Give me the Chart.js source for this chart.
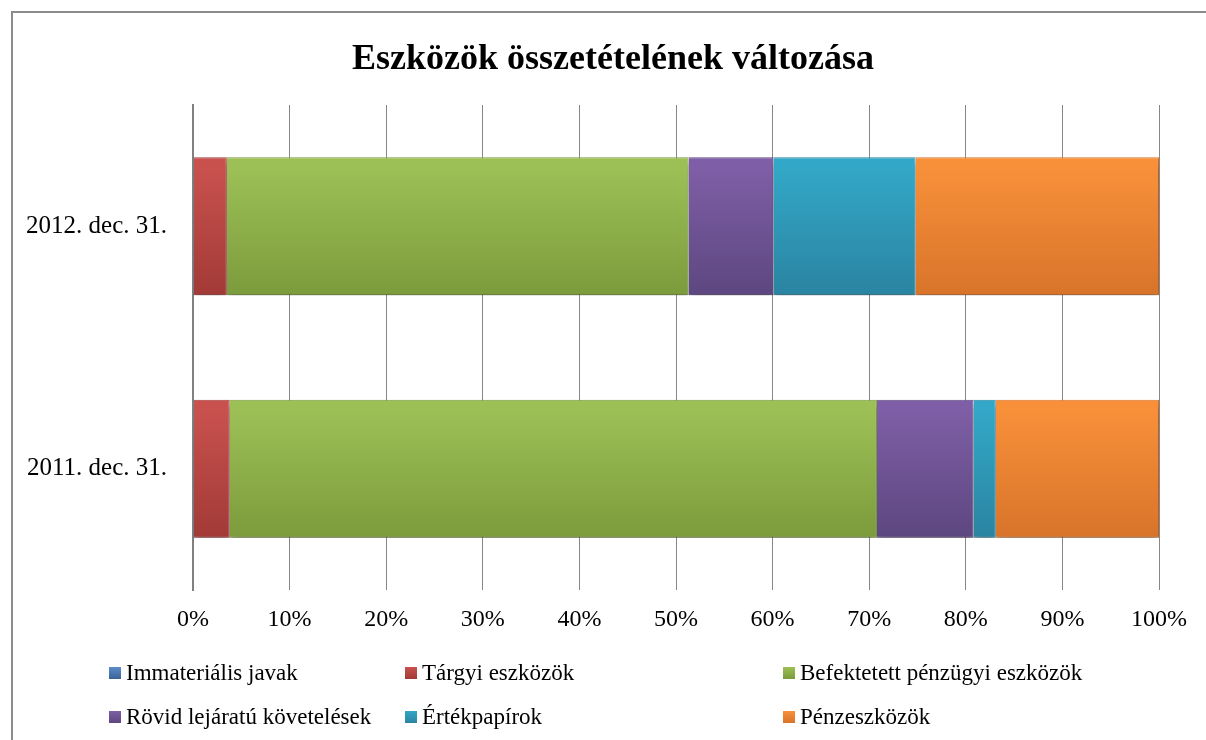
<!DOCTYPE html>
<html>
<head>
<meta charset="utf-8">
<script src="https://cdn.jsdelivr.net/npm/chart.js@4"></script>
<style>
body{margin:0;background:#fff;font-family:"Liberation Serif","Times New Roman",serif;}
#wrap{position:relative;width:1206px;height:740px;overflow:hidden;}
#frame{position:absolute;left:11px;top:11px;width:1200px;height:800px;border:2px solid #8c8c8c;box-sizing:border-box;}
#title{position:absolute;left:0;top:36px;width:1226px;text-align:center;font-weight:bold;font-size:36px;color:#000;}
#c{position:absolute;left:0;top:0;}
.lg{position:absolute;font-size:23px;color:#000;line-height:26px;white-space:nowrap;}
.lg i{display:inline-block;width:12px;height:12px;margin-right:5px;vertical-align:1px;}
</style>
</head>
<body>
<div id="wrap">
<div id="frame"></div>
<canvas id="c" width="1206" height="740"></canvas>
<div id="title">Eszközök összetételének változása</div>
<div id="legend"></div>
</div>
<script>
var categories=["2012. dec. 31.","2011. dec. 31."];
var seriesNames=["Immateriális javak","Tárgyi eszközök","Befektetett pénzügyi eszközök","Rövid lejáratú követelések","Értékpapírok","Pénzeszközök"];
var immaterialis=[0.1,0.1];
var targyi=[3.4,3.7];
var befektetett=[47.8,67.0];
var rovid=[8.8,10.0];
var ertekpapir=[14.7,2.3];
var penz=[25.2,16.9];
var xTicks=[0,10,20,30,40,50,60,70,80,90,100];

var colors=[["#5b8ccb","#3b6296"],["#c8514e","#a23a37"],["#9cc056","#7c9b3c"],["#7e5ea6","#5d4780"],["#33a7c7","#2a84a1"],["#f8903a","#d8742a"]];
var seriesData=[immaterialis,targyi,befektetett,rovid,ertekpapir,penz];

function grad(ci){
  return function(ctx){
    var ch=ctx.chart, ys=ch.scales.y;
    if(!ys||ctx.dataIndex===undefined) return colors[ci][0];
    var yc=ys.getPixelForValue(ctx.dataIndex), h=69;
    if(!isFinite(yc)) return colors[ci][0];
    var g=ch.ctx.createLinearGradient(0,yc-h,0,yc+h);
    g.addColorStop(0,colors[ci][0]);
    g.addColorStop(0.08,colors[ci][0]);
    g.addColorStop(1,colors[ci][1]);
    return g;
  };
}

var shadow={id:"shadow",
  beforeDatasetsDraw:function(ch){var c=ch.ctx;c.save();c.shadowColor="rgba(0,0,0,0.35)";c.shadowOffsetY=6;c.shadowBlur=6;},
  afterDatasetsDraw:function(ch){ch.ctx.restore();}
};

new Chart(document.getElementById("c"),{
  type:"bar",
  data:{labels:categories,datasets:seriesData.map(function(d,i){return{
    label:seriesNames[i],data:d,backgroundColor:grad(i),
    borderColor:colors[i][1],borderWidth:1,
    barPercentage:0.8,categoryPercentage:0.711};})},
  options:{
    indexAxis:"y",responsive:false,animation:false,
    layout:{padding:{top:105,right:47,left:0,bottom:0}},
    plugins:{legend:{display:false},tooltip:{enabled:false},title:{display:false}},
    scales:{
      x:{stacked:true,min:0,max:100,
        afterBuildTicks:function(s){s.ticks=xTicks.map(function(v){return{value:v};});},
        afterFit:function(s){s.height=150;},
        grid:{color:"#878787",lineWidth:1,drawTicks:false},
        border:{display:false},
        ticks:{padding:15,color:"#000",font:{family:"Liberation Serif",size:24},callback:function(v){return v+"%";}}},
      y:{stacked:true,
        afterFit:function(s){s.width=193;},
        grid:{display:false},
        border:{display:true,color:"#808080",width:2},
        ticks:{padding:18,color:"#000",font:{family:"Liberation Serif",size:25}}}
    }
  },
  plugins:[shadow]
});

var lgPos=[[109,660],[405,660],[783,660],[109,704],[405,704],[783,704]];
var html="";
seriesNames.forEach(function(n,i){
  html+='<div class="lg" style="left:'+lgPos[i][0]+'px;top:'+lgPos[i][1]+'px"><i style="background:linear-gradient('+colors[i][0]+','+colors[i][1]+')"></i>'+n+'</div>';
});
document.getElementById("legend").innerHTML=html;
</script>
</body>
</html>
